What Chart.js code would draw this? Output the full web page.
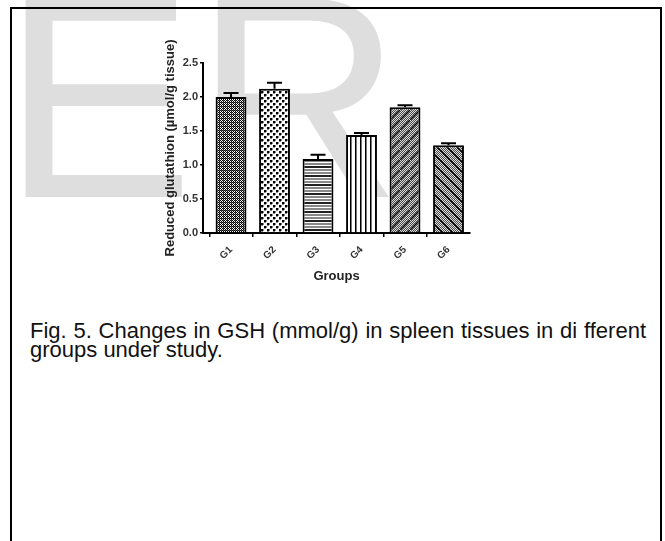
<!DOCTYPE html>
<html><head><meta charset="utf-8">
<script src="https://cdn.jsdelivr.net/npm/chart.js@4/dist/chart.umd.min.js"></script>
<style>
html,body{margin:0;padding:0;background:#fff;width:665px;height:541px;overflow:hidden;position:relative;font-family:"Liberation Sans",Arial,sans-serif}
#wm{position:absolute;left:0;top:0}
#frame{position:absolute;left:10px;top:7px;width:648px;height:600px;border:2px solid #000;}
#chartbox{position:absolute;left:150px;top:40px;width:340px;height:250px}
.cap{position:absolute;left:30px;font-size:22px;line-height:19px;color:#111;white-space:nowrap}
#cap1{top:321px;width:616px;text-align:justify;text-align-last:justify;white-space:normal}
#cap2{top:340px}
</style></head>
<body>
<svg id="wm" width="665" height="541"><text x="2" y="197" font-family="Liberation Sans" font-size="288" fill="#dedede">ER</text></svg>
<div id="frame"></div>
<div id="chartbox"><canvas id="c" width="340" height="250"></canvas></div>
<div class="cap" id="cap1">Fig. 5. Changes in GSH (mmol/g) in spleen tissues in di fferent</div>
<div class="cap" id="cap2">groups under study.</div>
<script>
const groups = ['G1','G2','G3','G4','G5','G6'];
const gshMeans = [2.00, 2.12, 1.09, 1.44, 1.85, 1.29];
const gshErrors = [0.06, 0.09, 0.06, 0.03, 0.03, 0.03];
const yTicks = [0, 0.5, 1.0, 1.5, 2.0, 2.5];

const canvas = document.getElementById('c');
const ctx = canvas.getContext('2d');
function tile(w,h,draw){const c=document.createElement('canvas');c.width=w;c.height=h;const g=c.getContext('2d');draw(g,w,h);return ctx.createPattern(c,'repeat');}
function px(g,col,pts){g.fillStyle=col;pts.forEach(p=>g.fillRect(p[0],p[1],p[2]||1,p[3]||1));}
const pG1 = tile(4,4,g=>{g.fillStyle='#fff';g.fillRect(0,0,4,4);px(g,'#000',[[0,0],[2,0],[1,1],[3,1],[0,2],[2,2],[1,3],[3,3]]);px(g,'#555',[[1,0],[3,2],[1,2]]);});
const pG2 = tile(6,6,g=>{g.fillStyle='#fff';g.fillRect(0,0,6,6);px(g,'#000',[[0,0,2,2],[3,3,2,2]]);px(g,'#888',[[2,0,1,2],[5,3,1,2],[0,2,2,1],[3,5,2,1]]);});
const pG3 = tile(1,9,g=>{const cols=['#222','#222','#fff','#888','#888','#fff','#888','#888','#fff'];cols.forEach((c,i)=>px(g,c,[[0,i]]));});
const pG4 = tile(5,1,g=>{g.fillStyle='#fff';g.fillRect(0,0,5,1);px(g,'#000',[[0,0]]);px(g,'#777',[[1,0]]);});
function hatch(dir){return tile(10,10,g=>{for(let y=0;y<10;y++)for(let x=0;x<10;x++){g.fillStyle=((x+y)%2)?'#4a4a4a':'#dcdcdc';g.fillRect(x,y,1,1);}g.strokeStyle='#000';g.lineWidth=1.5;g.beginPath();if(dir>0){g.moveTo(-1,11);g.lineTo(11,-1);}else{g.moveTo(-1,-1);g.lineTo(11,11);}g.stroke();});}
const pG5 = hatch(1), pG6 = hatch(-1);

const errorBars = {id:'errorBars', afterDatasetsDraw(chart){
  const c=chart.ctx, meta=chart.getDatasetMeta(0), y=chart.scales.y;
  c.save(); c.strokeStyle='#000'; c.lineWidth=2;
  meta.data.forEach((bar,i)=>{
    const top=y.getPixelForValue(gshMeans[i]+gshErrors[i]);
    const base=y.getPixelForValue(gshMeans[i]);
    c.beginPath(); c.moveTo(bar.x,base); c.lineTo(bar.x,top);
    c.moveTo(bar.x-7.5,top); c.lineTo(bar.x+7.5,top); c.stroke();
  });
  c.restore();
}};

const FONT = '"Liberation Sans", Arial, sans-serif';
new Chart(ctx,{
  type:'bar',
  data:{datasets:[{
    data: groups.map((g,i)=>({x:i,y:gshMeans[i]})),
    backgroundColor:[pG1,pG2,pG3,pG4,pG5,pG6],
    borderColor:'#000', borderWidth:2,
    barPercentage:0.71, categoryPercentage:1
  }]},
  options:{
    responsive:false, animation:false, devicePixelRatio:1,
    layout:{padding:{top:23,right:20,left:0,bottom:0}},
    plugins:{legend:{display:false},tooltip:{enabled:false}},
    scales:{
      x:{type:'linear', min:-0.644, max:5.494, offset:false,
        afterBuildTicks:s=>{s.ticks=groups.map((g,i)=>({value:i}));},
        ticks:{callback:v=>groups[v], minRotation:45, maxRotation:45, autoSkip:false,
          font:{size:10,weight:'bold',family:FONT}, color:'#333', padding:7},
        grid:{drawOnChartArea:false, tickLength:4, color:'#000', lineWidth:1.5},
        border:{color:'#000', width:2},
        title:{display:true, text:'Groups', font:{size:13,weight:'bold',family:FONT}, color:'#222', padding:{top:0,bottom:6}},
        afterFit:s=>{s.height=57;}
      },
      y:{min:0, max:2.5,
        afterBuildTicks:s=>{s.ticks=yTicks.map(v=>({value:v}));},
        ticks:{callback:v=>Number(v).toFixed(1), font:{size:11,weight:'bold',family:FONT}, color:'#333', padding:2},
        grid:{drawOnChartArea:false, tickLength:3, color:'#000', lineWidth:1.5},
        border:{color:'#000', width:2},
        title:{display:true, text:'Reduced glutathion (µmol/g tissue)', font:{size:13,weight:'bold',family:FONT}, color:'#222', padding:{top:13,bottom:0}},
        afterFit:s=>{s.width=53;}
      }
    }
  },
  plugins:[errorBars]
});
</script>
</body></html>
